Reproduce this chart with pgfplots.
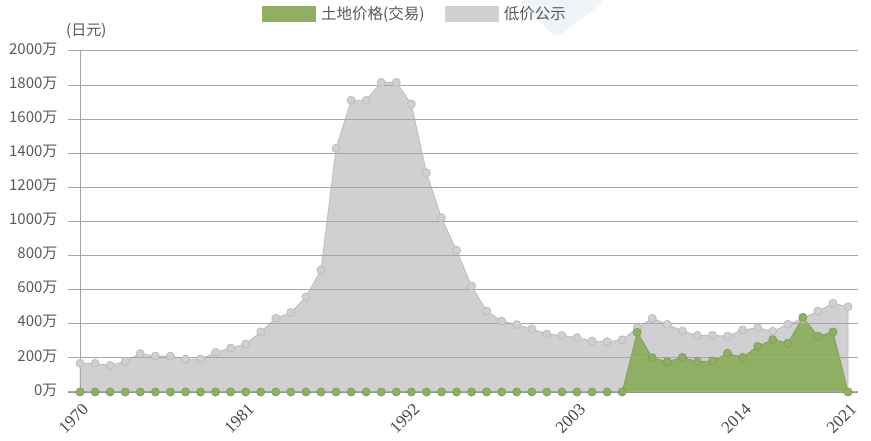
\documentclass[border=0pt]{standalone}
\usepackage{fontspec}
\setmainfont{Noto Sans CJK SC}
\newfontfamily\serifnum{Liberation Serif}
\usepackage{pgfplots}
\pgfplotsset{compat=1.18}
\definecolor{grayfill}{HTML}{D0D0D2}
\definecolor{grayedge}{HTML}{BDBDC0}
\definecolor{greenfill}{HTML}{8FB064}
\definecolor{greenedge}{HTML}{7FA055}
\definecolor{gridc}{HTML}{A6A6A6}
\definecolor{txt}{HTML}{595959}
\definecolor{paleblue}{HTML}{EDF4FA}
\begin{document}
\begin{tikzpicture}
\useasboundingbox (0pt,0pt) rectangle (871pt,441pt);
\fill[paleblue, rounded corners=8pt] (518pt,441pt) -- (606pt,441pt) -- (556pt,403pt) -- cycle;
\begin{axis}[
  at={(68pt,49pt)}, anchor=south west,
  scale only axis, width=790pt, height=341pt,
  xmin=1969.2, xmax=2021.66, ymin=0, ymax=2000,
  axis line style={draw=none},
  major tick length=0pt,
  ymajorgrids, grid style={gridc, line width=1pt},
  axis on top,
  ytick={0,200,...,2000},
  yticklabels={0万,200万,400万,600万,800万,1000万,1200万,1400万,1600万,1800万,2000万},
  yticklabel style={font=\fontsize{15pt}{16pt}\selectfont, text=txt, xshift=-7pt, yshift=2pt},
  xtick={1970,1981,1992,2003,2014,2021},
  xticklabels={1970,1981,1992,2003,2014,2021},
  xticklabel style={font=\serifnum\fontsize{17pt}{18pt}\selectfont, text=txt!80!black, rotate=45, anchor=north east, xshift=-3pt, yshift=-5pt},
  legend columns=2,
  legend style={at={(0.439,1.1085)}, anchor=center, draw=none, fill=none,
    font=\fontsize{15.5pt}{16pt}\selectfont, text=txt,
    /tikz/every odd column/.append style={column sep=4pt},
    /tikz/every even column/.append style={column sep=18pt}},
  clip=false,
]
\addplot[fill=grayfill, draw=grayedge, line width=0.8pt, mark=*, mark size=4pt,
  mark options={fill=grayfill, draw=grayedge, line width=0.8pt}, forget plot] coordinates {
(1970,168) (1971,168) (1972,156) (1973,180) (1974,225) (1975,211) (1976,211)
(1977,193) (1978,193) (1979,232) (1980,258) (1981,281) (1982,353) (1983,433)
(1984,466) (1985,558) (1986,715) (1987,1429) (1988,1711) (1989,1711) (1990,1816)
(1991,1816) (1992,1689) (1993,1286) (1994,1022) (1995,831) (1996,622) (1997,475)
(1998,416) (1999,395) (2000,371) (2001,340) (2002,332) (2003,319) (2004,299)
(2005,295) (2006,306) (2007,377) (2008,432) (2009,397) (2010,358) (2011,332)
(2012,332) (2013,328) (2014,364) (2015,377) (2016,356) (2017,397) (2018,432)
(2019,475) (2020,520) (2021,500)
} \closedcycle;
\addplot[fill=greenfill, draw=greenedge, line width=0.8pt, mark=*, mark size=4pt,
  mark options={fill=greenfill, draw=greenedge, line width=0.8pt}, forget plot] coordinates {
(1970,0) (1971,0) (1972,0) (1973,0) (1974,0) (1975,0) (1976,0) (1977,0) (1978,0)
(1979,0) (1980,0) (1981,0) (1982,0) (1983,0) (1984,0) (1985,0) (1986,0) (1987,0)
(1988,0) (1989,0) (1990,0) (1991,0) (1992,0) (1993,0) (1994,0) (1995,0) (1996,0)
(1997,0) (1998,0) (1999,0) (2000,0) (2001,0) (2002,0) (2003,0) (2004,0) (2005,0)
(2006,0) (2007,350) (2008,201) (2009,178) (2010,203) (2011,178) (2012,182)
(2013,227) (2014,203) (2015,268) (2016,307) (2017,287) (2018,438) (2019,328)
(2020,352) (2021,0)
} \closedcycle;
\draw[gridc, line width=1pt] (axis cs:1970,0) -- (axis cs:1970,2000);
\draw[gridc!90!black, line width=1.5pt] (axis cs:1969.2,0) -- (axis cs:2021.66,0);
\addlegendimage{legend image code/.code={\fill[greenfill] (0pt,-7.5pt) rectangle (53pt,7.5pt);}}
\addlegendentry{土地价格(交易)}
\addlegendimage{legend image code/.code={\fill[grayfill] (0pt,-7.5pt) rectangle (53pt,7.5pt);}}
\addlegendentry{低价公示}
\end{axis}
\node[anchor=west, font=\fontsize{15pt}{16pt}\selectfont, text=txt, inner sep=0pt] at (66pt,410pt) {(日元)};
\end{tikzpicture}
\end{document}
